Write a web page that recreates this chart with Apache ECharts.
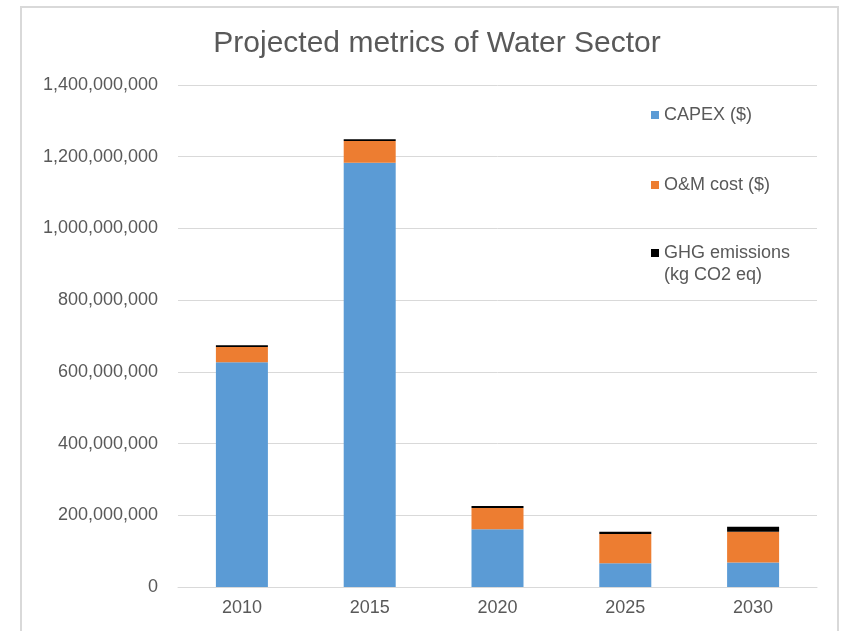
<!DOCTYPE html>
<html>
<head>
<meta charset="utf-8">
<script src="https://cdn.jsdelivr.net/npm/echarts@6/dist/echarts.min.js"></script>
<style>
html,body{margin:0;padding:0;background:#fff;}
#chart{width:841px;height:631px;}
</style>
</head>
<body>
<div id="chart"></div>
<script>
const categories = ['2010', '2015', '2020', '2025', '2030'];
const capex = [627e6, 1183e6, 161e6, 66e6, 68e6];
const omCost = [42e6, 61e6, 59e6, 82e6, 86e6];
const ghg = [5e6, 5e6, 6e6, 6e6, 14e6];
const yTicks = { min: 0, max: 1400000000, interval: 200000000 };

const FONT = "'Liberation Sans', Arial, sans-serif";
const TXT = '#595959';

const chart = echarts.init(document.getElementById('chart'), null, { renderer: 'canvas' });

function fmt(v) {
  return String(v).replace(/\B(?=(\d{3})+(?!\d))/g, ',');
}

const legendBase = {
  orient: 'vertical',
  itemWidth: 8,
  itemHeight: 8,
  icon: 'rect',
  selectedMode: false,
  textStyle: { color: TXT, fontSize: 18, fontFamily: FONT, lineHeight: 22 }
};

chart.setOption({
  animation: false,
  backgroundColor: '#fff',
  title: {
    text: 'Projected metrics of Water Sector',
    left: 432,
    textAlign: 'center',
    top: 24,
    textStyle: { color: TXT, fontSize: 30, fontWeight: 'normal', fontFamily: FONT }
  },
  graphic: [{
    type: 'rect',
    shape: { x: 21, y: 7, width: 817, height: 640 },
    style: { fill: 'none', stroke: '#d9d9d9', lineWidth: 2 },
    silent: true
  }],
  legend: [
    Object.assign({}, legendBase, { left: 646, top: 99, data: ['CAPEX ($)'] }),
    Object.assign({}, legendBase, { left: 646, top: 169, data: ['O&M cost ($)'] }),
    Object.assign({}, legendBase, {
      left: 646, top: 215, data: ['GHG emissions\n(kg CO2 eq)'],
      formatter: function (name) { return ' \n' + name; }
    })
  ],
  grid: { left: 178, right: 24, top: 85, bottom: 44, containLabel: false },
  xAxis: {
    type: 'category',
    data: categories,
    axisLine: { show: true, lineStyle: { color: '#d9d9d9', width: 1 } },
    axisTick: { show: false },
    axisLabel: { color: TXT, fontSize: 18, fontFamily: FONT, margin: 12 }
  },
  yAxis: {
    type: 'value',
    min: yTicks.min,
    max: yTicks.max,
    interval: yTicks.interval,
    axisLine: { show: false },
    axisTick: { show: false },
    splitLine: { lineStyle: { color: '#d9d9d9', width: 1 } },
    axisLabel: { color: TXT, fontSize: 18, fontFamily: FONT, margin: 20, formatter: fmt }
  },
  series: [
    { name: 'CAPEX ($)', type: 'bar', stack: 'total', data: capex, barWidth: 52, itemStyle: { color: '#5B9BD5' } },
    { name: 'O&M cost ($)', type: 'bar', stack: 'total', data: omCost, barWidth: 52, itemStyle: { color: '#ED7D31' } },
    { name: 'GHG emissions\n(kg CO2 eq)', type: 'bar', stack: 'total', data: ghg, barWidth: 52, itemStyle: { color: '#000000' } }
  ]
});
</script>
</body>
</html>
